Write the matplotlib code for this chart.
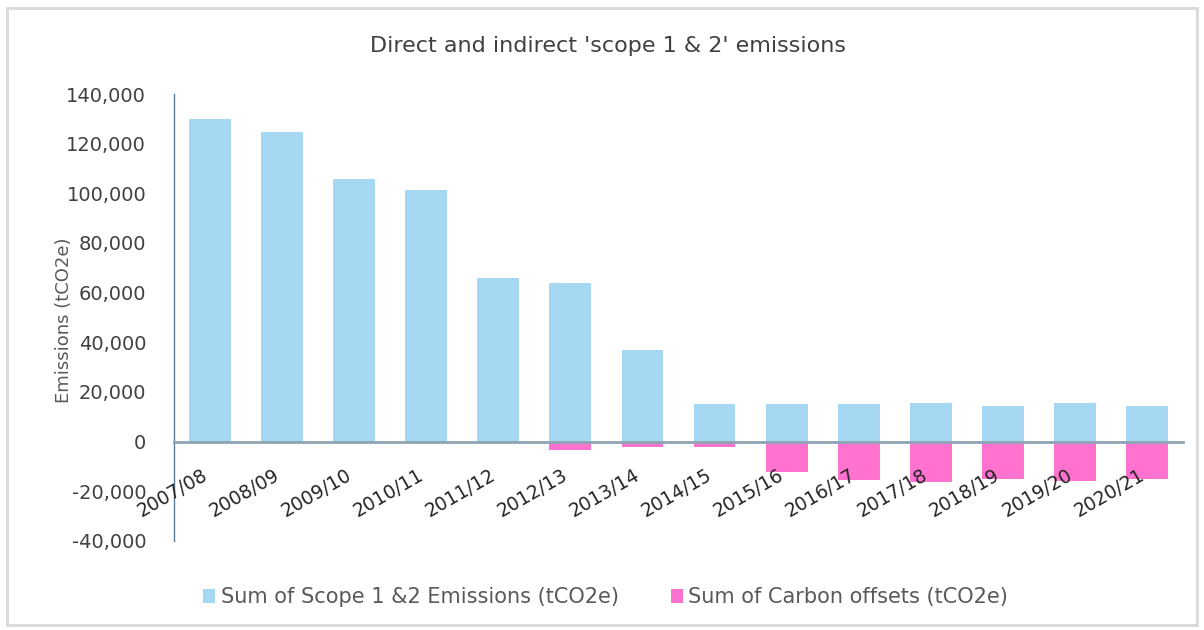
import numpy as np
import matplotlib.pyplot as plt
from matplotlib.patches import Rectangle
from matplotlib.ticker import FuncFormatter
import matplotlib.transforms as mtransforms

plt.rcParams['font.family'] = ['DejaVu Sans']

# data
years = ['2007/08', '2008/09', '2009/10', '2010/11', '2011/12', '2012/13', '2013/14',
         '2014/15', '2015/16', '2016/17', '2017/18', '2018/19', '2019/20', '2020/21']
emissions = [130000, 124500, 105800, 101300, 66000, 64000, 37000,
             15000, 15000, 15000, 15700, 14500, 15500, 14500]
offsets = [0, 0, 0, 0, 0, -3400, -2000,
           -2000, -12200, -15300, -16400, -14900, -15900, -14900]

blue = '#a6d8f3'
pink = '#ff72cf'
grey = '#595959'

fig = plt.figure(figsize=(12.04, 6.30), dpi=100)
# chart frame
fig.patches.append(Rectangle((0.006, 0.008), 0.988, 0.98, transform=fig.transFigure,
                             fill=False, edgecolor='#d9d9d9', linewidth=2))
ax = fig.add_axes([174/1204, 1-541/630, (1183-174)/1204, (541-94)/630])

x = np.arange(len(years))
ax.bar(x, emissions, width=0.58, color=blue, label='Sum of Scope 1 &2 Emissions (tCO2e)', zorder=2)
ax.bar(x, offsets, width=0.58, color=pink, label='Sum of Carbon offsets (tCO2e)', zorder=2)

ax.set_xlim(-0.5, len(years) - 0.5)
ax.set_ylim(-40000, 140000)
ax.set_yticks(np.arange(-40000, 140001, 20000))
ax.yaxis.set_major_formatter(FuncFormatter(lambda v, p: '{:,.0f}'.format(v)))
ax.tick_params(axis='y', length=0, labelsize=14, labelcolor='#404040', pad=20)

for s in ['top', 'right']:
    ax.spines[s].set_visible(False)
ax.spines['left'].set_color('#5a7a95')
ax.spines['left'].set_linewidth(1)
ax.spines['bottom'].set_position(('data', 0))
ax.spines['bottom'].set_color('#8ea4b2')
ax.spines['bottom'].set_linewidth(2)
ax.spines['bottom'].set_zorder(3)
ax.set_xticks([])

# rotated category labels hanging off the zero line
offset = mtransforms.ScaledTranslation(-0.09, -0.24, fig.dpi_scale_trans)
for i, lbl in enumerate(years):
    ax.text(i, 0, lbl, rotation=30, ha='right', va='top', rotation_mode='anchor',
            fontsize=13.5, color='#262626', transform=ax.transData + offset, zorder=4)

ax.set_ylabel('Emissions (tCO2e)', fontsize=13, color=grey)
ax.yaxis.set_label_coords(-0.100, 0.494)

fig.text(0.505, 0.927, "Direct and indirect 'scope 1 & 2' emissions", ha='center', va='center',
         fontsize=16, color='#404040')

leg = fig.legend(loc='center', bbox_to_anchor=(0.503, 0.052), ncol=2, frameon=False,
                 fontsize=15, handlelength=0.6, handleheight=0.6, handletextpad=0.25,
                 columnspacing=2.5)
for t in leg.get_texts():
    t.set_color(grey)

fig.savefig('out.png', dpi=100)
